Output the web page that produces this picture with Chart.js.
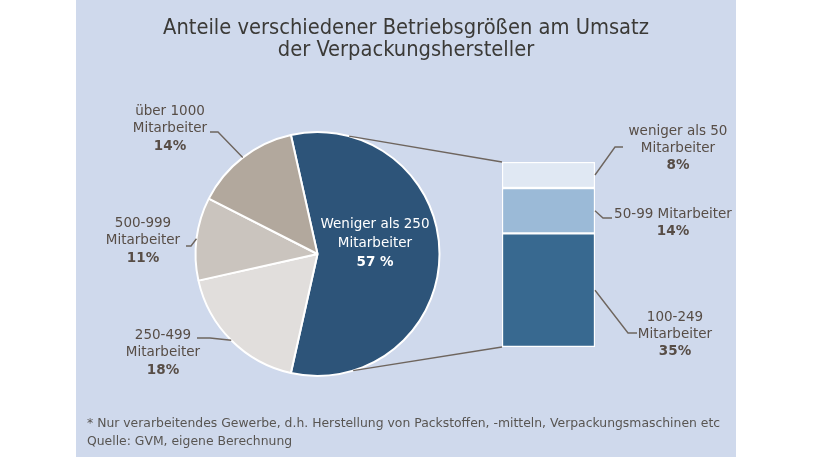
<!DOCTYPE html>
<html><head><meta charset="utf-8">
<script src="https://cdn.jsdelivr.net/npm/chart.js@4"></script>
<style>
html,body{margin:0;padding:0;background:#fff;}
#wrap{position:relative;width:813px;height:457px;overflow:hidden;}
#panel{position:absolute;left:76px;top:0;width:660px;height:457px;background:#cfd9ec;}
canvas{position:absolute;left:0;top:0;}
</style></head><body>
<div id="wrap"><div id="panel"></div>
<canvas id="pie" width="813" height="457" style="width:813px;height:457px"></canvas>
<canvas id="bar" width="813" height="457" style="width:813px;height:457px"></canvas>
</div>
<script>
// ---- data ----
const pieCategories = ['Weniger als 250 Mitarbeiter', '250-499 Mitarbeiter', '500-999 Mitarbeiter', 'über 1000 Mitarbeiter'];
const pieValues = [57, 18, 11, 14];
const pieColors = ['#2d5479', '#e1dedc', '#cac4be', '#b2a89d'];
const barCategories = ['100-249 Mitarbeiter', '50-99 Mitarbeiter', 'weniger als 50 Mitarbeiter'];
const barValues = [35, 14, 8];
const barColors = ['#386990', '#9bbad7', '#e0e8f3'];
const titleLines = ['Anteile verschiedener Betriebsgrößen am Umsatz', 'der Verpackungshersteller'];
const footnoteLines = ['* Nur verarbeitendes Gewerbe, d.h. Herstellung von Packstoffen, -mitteln, Verpackungsmaschinen etc', 'Quelle: GVM, eigene Berechnung'];

const FONT_C = '"DejaVu Sans Condensed","DejaVu Sans",sans-serif';
const FONT = '"DejaVu Sans",sans-serif';
const LABEL_COLOR = '#574d46';
const LINE_COLOR = '#6e655e';

const pieChart = new Chart(document.getElementById('pie'), {
  type: 'pie',
  data: { labels: pieCategories, datasets: [{ data: pieValues, backgroundColor: pieColors, borderColor: '#ffffff', borderWidth: 2 }] },
  options: {
    responsive: false, animation: false, rotation: -12.6, radius: 122,
    layout: { padding: { left: 190, right: 368, top: 131, bottom: 80 } },
    plugins: { legend: { display: false }, tooltip: { enabled: false }, title: { display: false } },
    events: []
  }
});

function pct(v) { return v + '%'; }

function drawBlock(ctx, lines, x, y, lh, color, align, boldLast) {
  ctx.save();
  ctx.fillStyle = color; ctx.textAlign = align || 'center'; ctx.textBaseline = 'middle';
  lines.forEach((t, i) => {
    const bold = boldLast && i === lines.length - 1;
    ctx.font = (bold ? 'bold ' : '') + '13.5px ' + FONT;
    ctx.fillText(t, x, y + i * lh);
  });
  ctx.restore();
}
function path(ctx, pts) {
  ctx.beginPath();
  ctx.moveTo(pts[0][0], pts[0][1]);
  for (let i = 1; i < pts.length; i++) ctx.lineTo(pts[i][0], pts[i][1]);
  ctx.stroke();
}

const annot = {
  id: 'annot',
  afterDraw(chart) {
    const ctx = chart.ctx;
    const arcs = pieChart.getDatasetMeta(0).data;
    const bars = barValues.map((v, i) => chart.getDatasetMeta(i).data[0]);
    const midPt = (a) => { const m = (a.startAngle + a.endAngle) / 2; return [a.x + Math.cos(m) * a.outerRadius, a.y + Math.sin(m) * a.outerRadius]; };
    const barRight = (b) => [b.x + b.width / 2, (b.y + b.base) / 2];

    // title
    ctx.save();
    ctx.fillStyle = '#3b3a37'; ctx.textAlign = 'center'; ctx.textBaseline = 'middle';
    ctx.font = '21.7px ' + FONT_C;
    titleLines.forEach((t, i) => ctx.fillText(t, 406, 28 + i * 22));
    // footnote
    ctx.fillStyle = '#585552'; ctx.textAlign = 'left'; ctx.font = '12.4px ' + FONT;
    footnoteLines.forEach((t, i) => ctx.fillText(t, 87, 424 + i * 18));
    ctx.restore();

    // connectors pie -> bar
    const a0 = arcs[0];
    const topPt = [a0.x + Math.cos(-75 * Math.PI / 180) * a0.outerRadius, a0.y + Math.sin(-75 * Math.PI / 180) * a0.outerRadius];
    const botPt = [a0.x + Math.cos(73 * Math.PI / 180) * a0.outerRadius, a0.y + Math.sin(73 * Math.PI / 180) * a0.outerRadius];
    const topBar = bars[bars.length - 1], botBar = bars[0];
    ctx.save();
    ctx.strokeStyle = LINE_COLOR; ctx.lineWidth = 1.4;
    path(ctx, [topPt, [topBar.x - topBar.width / 2, topBar.y]]);
    path(ctx, [botPt, [botBar.x - botBar.width / 2, botBar.base]]);

    // pie leaders
    path(ctx, [[210, 132], [218, 132], midPt(arcs[3])]);
    path(ctx, [[186, 246], [191, 246], midPt(arcs[2])]);
    path(ctx, [[197, 338], [210, 338], midPt(arcs[1])]);
    // bar leaders
    path(ctx, [barRight(bars[2]), [615, 147], [623, 147]]);
    path(ctx, [barRight(bars[1]), [603, 218], [612, 218]]);
    path(ctx, [barRight(bars[0]), [628, 333], [637, 333]]);
    ctx.restore();

    // pie labels
    drawBlock(ctx, ['Weniger als 250', 'Mitarbeiter', pieValues[0] + ' %'], 375, 224, 19, '#ffffff', 'center', true);
    drawBlock(ctx, ['über 1000', 'Mitarbeiter', pct(pieValues[3])], 170, 111, 17.5, LABEL_COLOR, 'center', true);
    drawBlock(ctx, ['500-999', 'Mitarbeiter', pct(pieValues[2])], 143, 223, 17.5, LABEL_COLOR, 'center', true);
    drawBlock(ctx, ['250-499', 'Mitarbeiter', pct(pieValues[1])], 163, 335, 17.5, LABEL_COLOR, 'center', true);
    // bar labels
    drawBlock(ctx, ['weniger als 50', 'Mitarbeiter', pct(barValues[2])], 678, 131, 17, LABEL_COLOR, 'center', true);
    drawBlock(ctx, ['50-99 Mitarbeiter', pct(barValues[1])], 673, 214, 17, LABEL_COLOR, 'center', true);
    drawBlock(ctx, ['100-249', 'Mitarbeiter', pct(barValues[0])], 675, 317, 17, LABEL_COLOR, 'center', true);
  }
};

const barChart = new Chart(document.getElementById('bar'), {
  type: 'bar',
  data: {
    labels: ['Weniger als 250 Mitarbeiter'],
    datasets: barValues.map((v, i) => ({
      label: barCategories[i], data: [v], backgroundColor: barColors[i],
      borderColor: '#ffffff', borderWidth: 1.5, borderSkipped: false,
      barPercentage: 1, categoryPercentage: 1
    }))
  },
  options: {
    responsive: false, animation: false, events: [],
    layout: { padding: { left: 502, right: 218, top: 162, bottom: 110 } },
    scales: {
      x: { display: false, stacked: true },
      y: { display: false, stacked: true, min: 0, max: 57 }
    },
    plugins: { legend: { display: false }, tooltip: { enabled: false } }
  },
  plugins: [annot]
});
</script>
</body></html>
